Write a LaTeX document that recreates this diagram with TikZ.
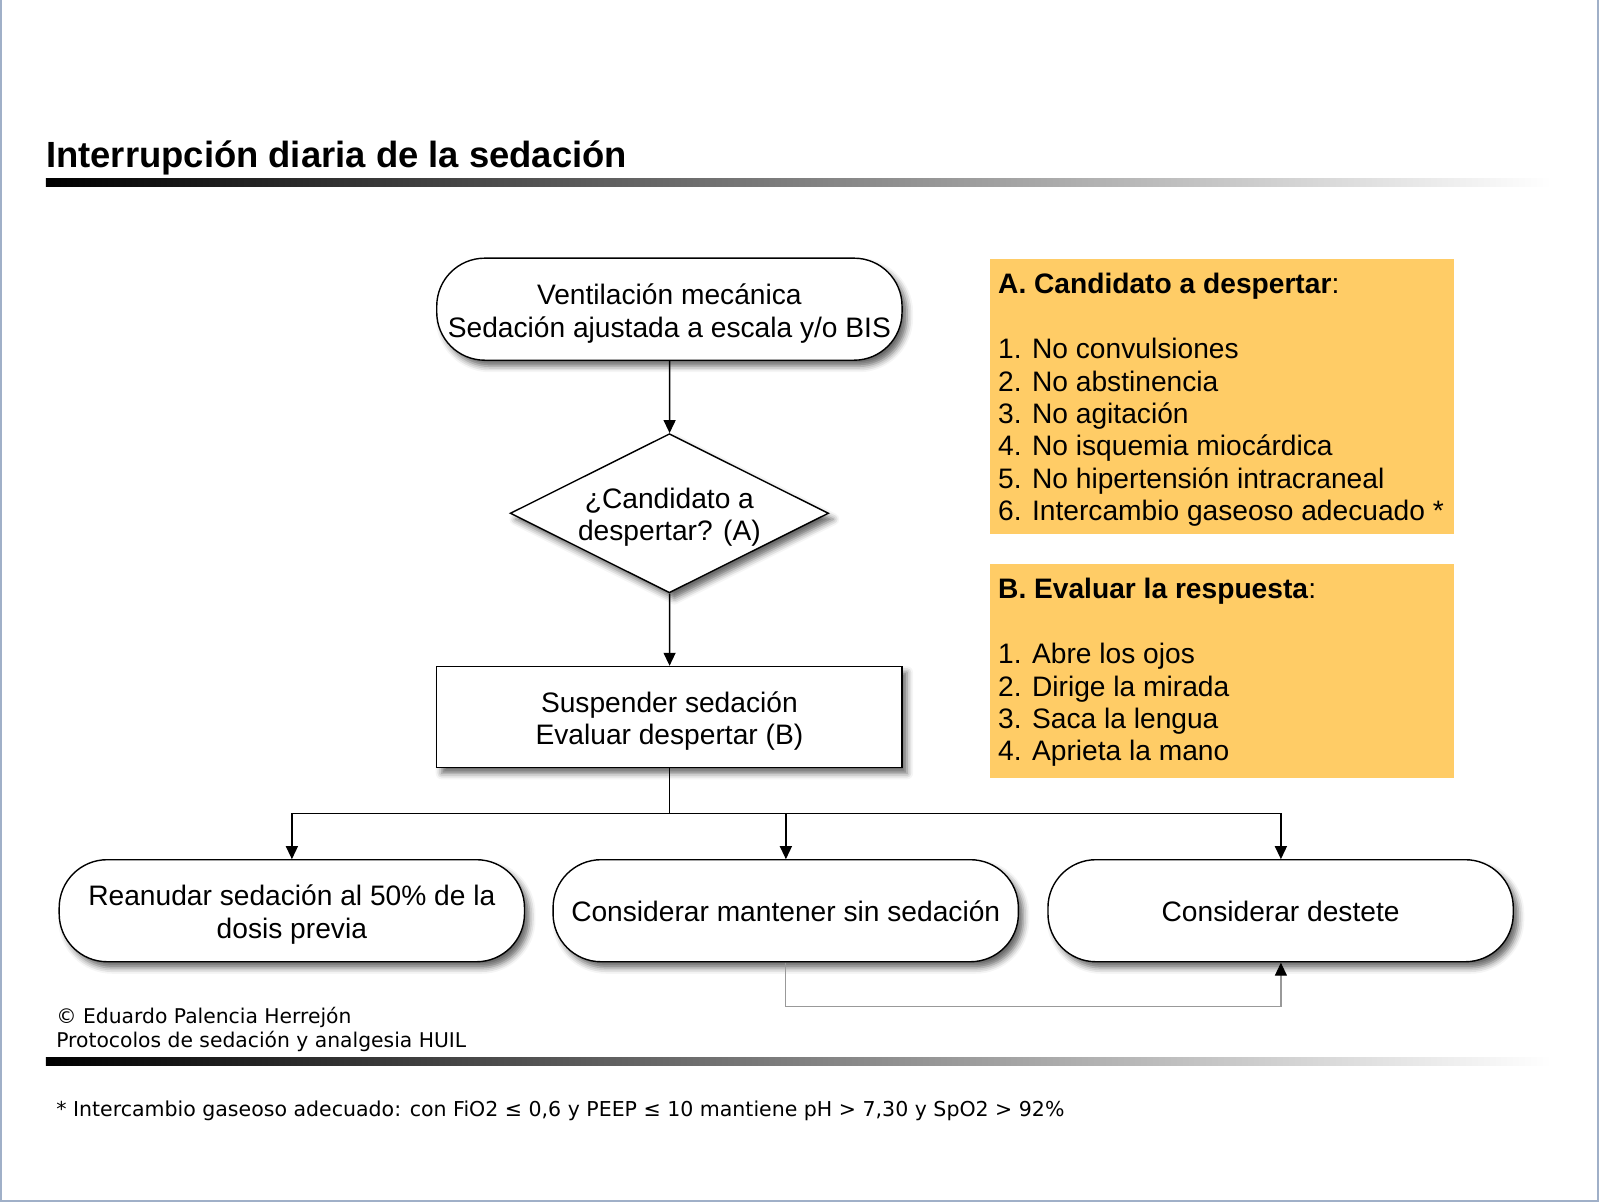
\documentclass[tikz,border=0pt]{standalone}
\usepackage{fontspec}
\setmainfont{Liberation Sans}
\newfontfamily\verd{DejaVu Sans}
\usetikzlibrary{arrows.meta,shapes.geometric,shadows.blur}
\definecolor{orangebox}{RGB}{255,204,102}
\definecolor{framecol}{RGB}{160,176,200}
\begin{document}
\begin{tikzpicture}[x=1pt,y=-1pt,scale=1.0204,transform shape,
  every node/.style={font=\fontsize{27.6}{32}\selectfont},
  shad/.style={blur shadow={shadow xshift=5pt,shadow yshift=-6pt,shadow blur radius=6pt,shadow opacity=60}},
  term/.style={draw,line width=1.4pt,fill=white,rounded corners=48pt,minimum width=456pt,minimum height=100pt,inner sep=0pt,shad},
  procbox/.style={draw,line width=1.4pt,fill=white,minimum width=456pt,minimum height=99pt,inner sep=0pt,shad},
  decis/.style={draw,diamond,aspect=2,line width=1.4pt,fill=white,minimum width=312pt,minimum height=156pt,inner sep=0pt,shad},
  nodetext/.style={align=center,inner sep=0pt},
  arr/.style={line width=1.4pt,-{Triangle[length=13pt,width=12pt]}},
  infobox/.style={fill=orangebox,minimum width=455pt,inner sep=0pt,anchor=north west},
  infoline/.style={anchor=base west,inner sep=0pt},
  smalltxt/.style={anchor=base west,inner sep=0pt,font=\verd\fontsize{19.9}{24}\selectfont},
]
\useasboundingbox (0,0) rectangle (1568,1178);
% frame
\draw[framecol,line width=2pt] (1,0) -- (1,1176.5) -- (1566.5,1176.5) -- (1566.5,0);
% title
\node[anchor=base west,inner sep=0pt,font=\bfseries\fontsize{35.7}{40}\selectfont] (title) at (45,164.5) {Interrupción diaria de la sedación};
\shade[left color=black,right color=white] (45,175) rectangle (1520,182.5);
% flow shapes
\node[term] (start) at (656,303) {};
\node[decis] (cand) at (656,503) {};
\node[procbox] (susp) at (656,702.5) {};
\node[term] (rean) at (286,892.5) {};
\node[term] (mant) at (770,892.5) {};
\node[term] (dest) at (1255,892.5) {};
% texts of the shapes
\node[nodetext] (startT) at (656,307) {Ventilación mecánica\\Sedación ajustada a escala y/o BIS};
\node[nodetext] (candT) at (656,507) {¿Candidato a\\despertar? (A)};
\node[nodetext] (suspT) at (656,706.5) {Suspender sedación\\Evaluar despertar (B)};
\node[nodetext] (reanT) at (286,896.5) {Reanudar sedación al 50\% de la\\dosis previa};
\node[nodetext] (mantT) at (770,893.5) {Considerar mantener sin sedación};
\node[nodetext] (destT) at (1255,893.5) {Considerar destete};
% connectors
\draw[arr] (start) -- (cand);
\draw[arr] (cand) -- (susp);
\coordinate (split) at (656,797);
\draw[line width=1.4pt] (susp.south) -- (split);
\draw[arr] (split) -| (rean.north);
\draw[arr] (split) -| (mant.north);
\draw[arr] (split) -| (dest.north);
\coordinate (loopc) at (1255,986);
\draw[gray!80,line width=1.2pt,-{Triangle[length=13pt,width=12pt,color=black,fill=black]}] (mant.south) |- (loopc) -- (dest.south);
% info boxes
\node[infobox,minimum height=269pt] (boxA) at (970,254) {};
\node[infobox,minimum height=209pt] (boxB) at (970,553) {};
\node[infoline] (a0) at (978,288) {\textbf{A. Candidato a despertar}:};
\foreach \t [count=\i] in {1. No convulsiones,2. No abstinencia,3. No agitación,4. No isquemia miocárdica,5. No hipertensión intracraneal,6. Intercambio gaseoso adecuado *}
  \node[infoline] (a\i) at (978,{288+31.75*(\i+1)}) {\t};
\node[infoline] (b0) at (978,587) {\textbf{B. Evaluar la respuesta}:};
\foreach \t [count=\i] in {1. Abre los ojos,2. Dirige la mirada,3. Saca la lengua,4. Aprieta la mano}
  \node[infoline] (b\i) at (978,{587+31.75*(\i+1)}) {\t};
% footer
\node[smalltxt] (copy1) at (55,1003) {© Eduardo Palencia Herrejón};
\node[smalltxt] (copy2) at (55,1027) {Protocolos de sedación y analgesia HUIL};
\shade[left color=black,right color=white] (45,1036) rectangle (1520,1044);
\node[anchor=base west,inner sep=0pt,font=\verd\fontsize{20.1}{24}\selectfont] (foot) at (55,1094) {* Intercambio gaseoso adecuado: con FiO2 ≤ 0,6 y PEEP ≤ 10 mantiene pH > 7,30 y SpO2 > 92\%};
\end{tikzpicture}
\end{document}
